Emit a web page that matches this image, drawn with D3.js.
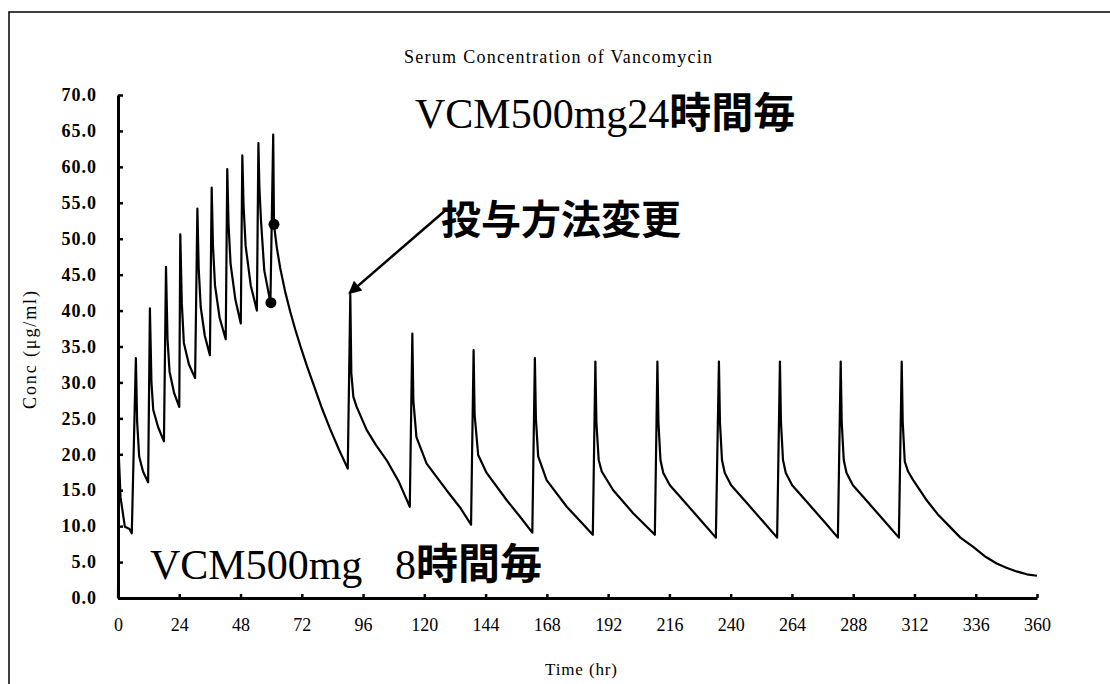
<!DOCTYPE html>
<html>
<head>
<meta charset="utf-8">
<script src="https://cdn.jsdelivr.net/npm/d3@7"></script>
<style>
  body { margin: 0; background: #fff; }
  svg { display: block; }
  .tick text { font-family: "Liberation Serif", "DejaVu Serif", serif; font-size: 18px; fill: #000; }
  .jp { font-family: "Noto Sans CJK JP", sans-serif; font-weight: bold; }
  .lat { font-family: "Liberation Serif", serif; }
</style>
</head>
<body>
<div id="chart"></div>
<script>
// tick labels
let xTicks = [0, 24, 48, 72, 96, 120, 144, 168, 192, 216, 240, 264, 288, 312, 336, 360];
let yTicks = [0, 5, 10, 15, 20, 25, 30, 35, 40, 45, 50, 55, 60, 65, 70];

// q8h-ish part (hr, ug/ml)
let earlyHours = [0, 0.3, 1.0, 2.7, 4.5, 5.4,
  7.0, 7.5, 8.3, 9.8, 11.8,
  12.5, 13.1, 13.8, 15.7, 18.0,
  18.8, 19.4, 20.2, 22.0, 24.0,
  24.4, 25.0, 25.8, 27.8, 30.2,
  31.1, 31.6, 32.4, 34.0, 36.0,
  36.7, 37.2, 38.0, 39.8, 42.2,
  42.8, 43.3, 44.1, 46.0, 48.1,
  48.7, 49.2, 50.0, 52.0, 54.4,
  55.0, 55.4, 56.0, 57.3, 59.7,
  60.8, 61.1, 62.2, 63.5, 65.5, 67.5, 69.5, 71.5, 74.0, 76.5, 80.0, 83.0, 86.5, 90.0];
let earlyConc = [0, 20.0, 14.0, 9.9, 9.6, 9.0,
  33.4, 24.5, 19.7, 17.6, 16.1,
  40.3, 30.0, 26.2, 23.8, 21.8,
  46.1, 36.0, 31.5, 28.5, 26.6,
  50.6, 41.0, 35.5, 32.5, 30.6,
  54.2, 46.0, 40.5, 36.5, 33.8,
  57.1, 49.0, 43.5, 39.0, 36.0,
  59.7, 52.0, 46.5, 41.5, 38.2,
  61.6, 54.5, 49.0, 43.5, 40.0,
  63.3, 57.0, 52.6, 45.6, 41.1,
  64.5, 52.0, 48.8, 46.0, 42.6, 39.8, 37.3, 35.0, 32.3, 29.8, 26.3, 23.6, 20.7, 18.0];

// q24h part
let lateHours = [91.0, 91.4, 92.2, 93.5, 97.4, 101.0, 105.2, 110.0, 114.3,
  115.3, 115.7, 116.9, 120.9, 128.7, 134.0, 138.3,
  139.3, 139.7, 141.1, 144.4, 152.3, 157.5, 162.3,
  163.3, 163.7, 164.6, 167.9, 175.8, 181.0, 186.0,
  187.0, 187.4, 188.3, 189.5, 194.0, 201.8, 210.3,
  211.3, 211.7, 212.5, 213.6, 216.2, 221.4, 229.3, 234.2,
  235.4, 235.8, 236.6, 237.7, 240.2, 245.4, 253.3, 258.2,
  259.3, 259.7, 260.5, 261.6, 264.1, 269.3, 277.2, 282.0,
  283.1, 283.5, 284.3, 285.4, 287.9, 293.1, 301.0, 305.9,
  307.0, 307.4, 308.2, 309.5, 311.5, 316.8, 321.0, 325.9, 330.0, 335.0, 340.0, 344.2, 348.0, 352.0, 356.0, 360.0];
let lateConc = [42.2, 31.3, 28.0, 26.6, 23.4, 21.3, 19.2, 16.2, 12.7,
  36.8, 27.5, 22.4, 18.7, 15.0, 12.6, 10.2,
  34.5, 25.5, 19.9, 17.4, 13.6, 11.3, 9.1,
  33.4, 25.0, 19.7, 16.4, 12.7, 10.7, 8.8,
  32.9, 24.5, 19.2, 17.6, 15.0, 11.8, 8.8,
  32.9, 24.5, 19.2, 17.4, 15.7, 13.6, 10.4, 8.4,
  32.9, 24.5, 19.2, 17.4, 15.7, 13.6, 10.4, 8.4,
  32.9, 24.5, 19.2, 17.4, 15.7, 13.6, 10.4, 8.4,
  32.9, 24.5, 19.2, 17.4, 15.7, 13.6, 10.4, 8.4,
  32.9, 24.5, 19.0, 17.6, 16.4, 13.6, 11.7, 9.9, 8.4, 7.1, 5.7, 4.8, 4.2, 3.7, 3.3, 3.1];

// measured levels (dots)
let markerHours = [59.9, 61.1];
let markerConc = [41.1, 52.0];

let width = 1110, height = 684;

let svg = d3.select("#chart").append("svg")
  .attr("width", width)
  .attr("height", height);

svg.append("rect").attr("width", width).attr("height", height).attr("fill", "#fff");

// scanned page frame (left + top edge)
svg.append("path")
  .attr("d", "M9,684V12H1110")
  .attr("fill", "none")
  .attr("stroke", "#000")
  .attr("stroke-width", 1.5);

let x = d3.scaleLinear().domain([0, 360]).range([118, 1037]);
let y = d3.scaleLinear().domain([0, 70]).range([598, 95]);

let xAxis = d3.axisBottom(x)
  .tickValues(xTicks)
  .tickSizeInner(-4)
  .tickSizeOuter(0)
  .tickPadding(20)
  .tickFormat(d3.format("d"));

let yAxis = d3.axisLeft(y)
  .tickValues(yTicks)
  .tickSizeInner(-5)
  .tickSizeOuter(0)
  .tickPadding(21)
  .tickFormat(d3.format(".1f"));

let gx = svg.append("g").attr("transform", "translate(0," + y(0) + ")").call(xAxis);
let gy = svg.append("g").attr("transform", "translate(" + x(0) + ",0)").call(yAxis);

[gx, gy].forEach(function (g) {
  g.select(".domain").attr("stroke", "#000").attr("stroke-width", 3);
  g.selectAll(".tick line").attr("stroke", "#000").attr("stroke-width", 2.5);
  g.selectAll(".tick text").attr("fill", "#000");
});
gy.selectAll(".tick text").attr("font-weight", "bold").attr("letter-spacing", 1);

let points = earlyHours.map((h, i) => [h, earlyConc[i]])
  .concat(lateHours.map((h, i) => [h, lateConc[i]]));

let line = d3.line()
  .x((d) => x(d[0]))
  .y((d) => y(d[1]));

svg.append("path")
  .datum(points)
  .attr("d", line)
  .attr("fill", "none")
  .attr("stroke", "#000")
  .attr("stroke-width", 2.2)
  .attr("stroke-linejoin", "round");

svg.selectAll("circle.dot")
  .data(markerHours)
  .enter()
  .append("circle")
  .attr("class", "dot")
  .attr("cx", (d) => x(d))
  .attr("cy", (d, i) => y(markerConc[i]))
  .attr("r", 5.5)
  .attr("fill", "#000");

// titles
svg.append("text")
  .attr("x", 558).attr("y", 63)
  .attr("text-anchor", "middle")
  .attr("font-family", "Liberation Serif, serif")
  .attr("font-size", 18)
  .attr("textLength", 308)
  .text("Serum Concentration of Vancomycin");

svg.append("text")
  .attr("x", 581).attr("y", 675)
  .attr("text-anchor", "middle")
  .attr("font-family", "Liberation Serif, serif")
  .attr("font-size", 17)
  .attr("textLength", 72)
  .text("Time (hr)");

svg.append("text")
  .attr("transform", "translate(36,350) rotate(-90)")
  .attr("text-anchor", "middle")
  .attr("font-family", "Liberation Serif, serif")
  .attr("font-size", 18)
  .attr("textLength", 118)
  .text("Conc (μg/ml)");

// annotations
let a1 = svg.append("text").attr("x", 415).attr("y", 128).attr("font-size", 42);
a1.append("tspan").attr("class", "lat").text("VCM500mg24");
a1.append("tspan").attr("class", "jp").text("時間毎");

svg.append("text")
  .attr("class", "jp")
  .attr("x", 441).attr("y", 234)
  .attr("font-size", 40)
  .text("投与方法変更");

let a3 = svg.append("text").attr("x", 150).attr("y", 579).attr("font-size", 42);
a3.append("tspan").attr("class", "lat").text("VCM500mg");
a3.append("tspan").attr("class", "lat").attr("x", 395).text("8");
a3.append("tspan").attr("class", "jp").text("時間毎");

// arrow to the first 24h dose
svg.append("defs").append("marker")
  .attr("id", "head")
  .attr("viewBox", "0 0 10 10")
  .attr("refX", 9).attr("refY", 5)
  .attr("markerWidth", 16).attr("markerHeight", 13)
  .attr("markerUnits", "userSpaceOnUse")
  .attr("orient", "auto")
  .append("path")
  .attr("d", "M0,0L10,5L0,10z")
  .attr("fill", "#000");

svg.append("line")
  .attr("x1", 447).attr("y1", 209)
  .attr("x2", x(90.6)).attr("y2", y(42.4))
  .attr("stroke", "#000")
  .attr("stroke-width", 2.5)
  .attr("marker-end", "url(#head)");
</script>
</body>
</html>
